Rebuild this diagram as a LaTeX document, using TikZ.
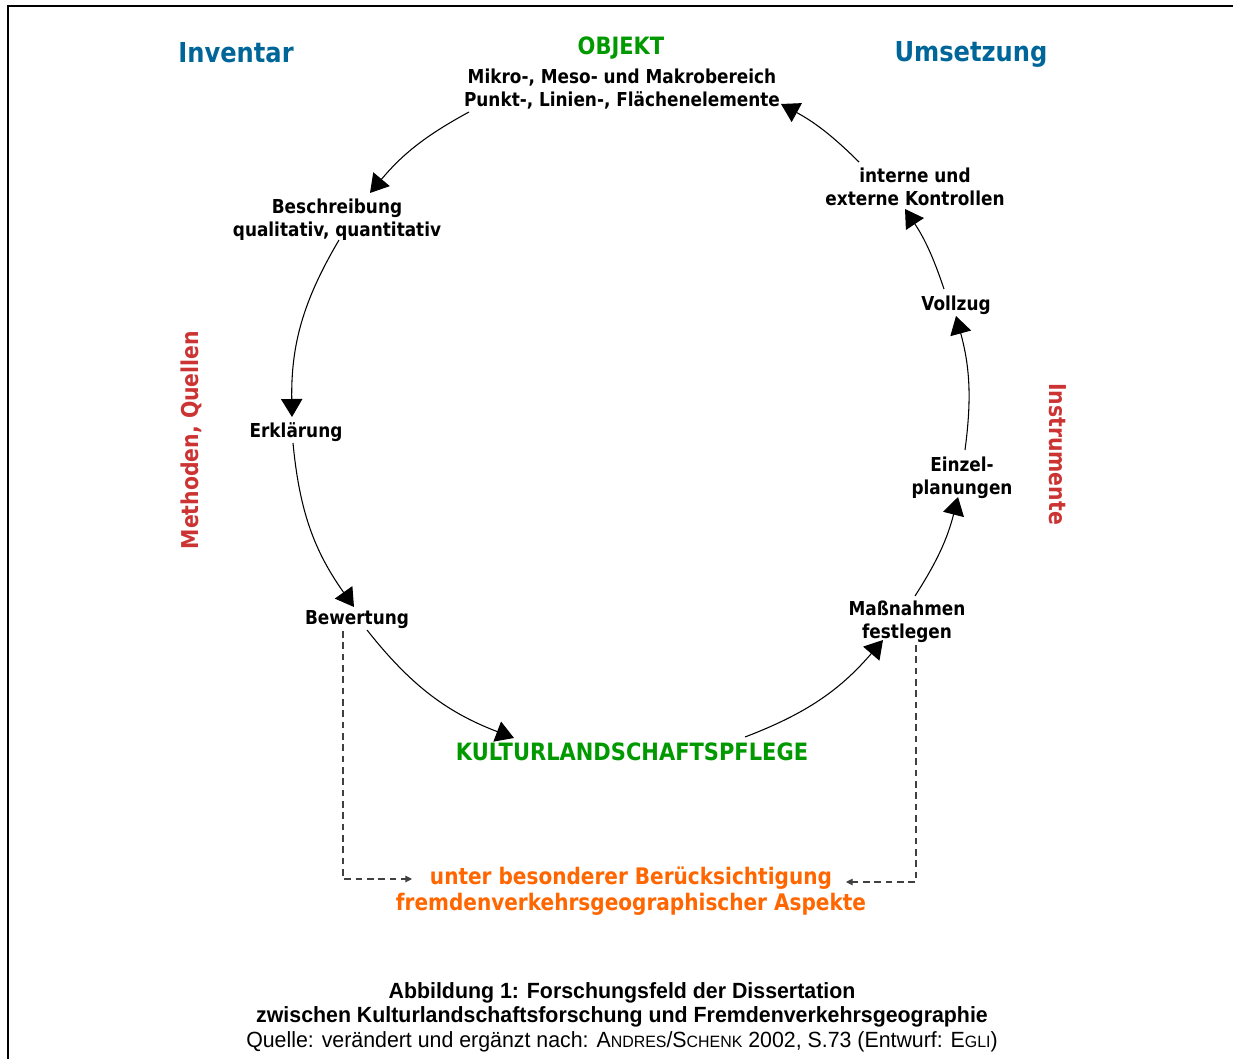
\documentclass[tikz,border=0pt]{standalone}
\usepackage{fontspec}
\setmainfont{DejaVu Sans}[FakeStretch=0.88]
\newfontfamily\capfont{Liberation Sans}[FakeStretch=0.97]
\usetikzlibrary{arrows.meta}
\definecolor{hblue}{RGB}{0,102,153}
\definecolor{hgreen}{RGB}{0,153,0}
\definecolor{hred}{RGB}{204,51,51}
\definecolor{horange}{RGB}{255,102,0}
\newcommand{\mysc}[1]{{\fontsize{12.3pt}{16pt}\selectfont #1}}
\tikzset{
  body/.style={inner sep=0pt, align=center, font=\fontsize{14.4pt}{17.25pt}\selectfont\bfseries},
  head/.style={inner sep=0pt, align=center, text=hblue, font=\fontsize{20.6pt}{24pt}\selectfont\bfseries},
  grn/.style={inner sep=0pt, align=center, text=hgreen, font=\fontsize{17.9pt}{21pt}\selectfont\bfseries},
  sidered/.style={inner sep=0pt, text=hred, font=\fontsize{17.4pt}{20pt}\selectfont\bfseries},
  orng/.style={inner sep=0pt, align=center, text=horange, font=\fontsize{17.1pt}{20pt}\selectfont\bfseries},
  capt/.style={inner sep=0pt, align=center, font=\capfont\fontsize{16.5pt}{18.4pt}\selectfont},
  arc/.style={line width=0.8pt, -{Triangle[length=13.5pt,width=16pt]}},
  dsh/.style={line width=0.8pt, draw=black!75, dash pattern=on 5pt off 3.5pt, -{Triangle[length=5pt,width=5pt]}}
}
\begin{document}
\begin{tikzpicture}[x=0.75pt,y=0.75pt]
\useasboundingbox (0,0) rectangle (1233,-1059);
\draw[line width=2pt] (8,-1059) -- (8,-6) -- (1233,-6);
% headings
\node[head] (inv) at (236,-53) {Inventar};
\node[head] (ums) at (971,-54.5) {Umsetzung};
\node[grn] (obj) at (621,-48) {OBJEKT};
\node[body] (objt) at (622,-89.5) {Mikro-, Meso- und Makrobereich\\Punkt-, Linien-, Flächenelemente};
\node[body] (besch) at (337,-220) {Beschreibung\\qualitativ, quantitativ};
\node[body] (erkl) at (296,-432.5) {Erklärung};
\node[body] (bew) at (357,-619.5) {Bewertung};
\node[grn] (kult) at (632,-752) {KULTURLANDSCHAFTSPFLEGE};
\node[body] (mass) at (907,-622) {Maßnahmen\\festlegen};
\node[body] (einz) at (962,-478) {Einzel-\\planungen};
\node[body] (voll) at (956,-305.5) {Vollzug};
\node[body] (kontr) at (915,-187) {interne und\\externe Kontrollen};
\node[sidered, rotate=90] (meth) at (191,-440) {Methoden, Quellen};
\node[sidered, rotate=-90] (instr) at (1058,-454) {Instrumente};
\node[orng] (unter) at (631,-891) {unter besonderer Berücksichtigung\\fremdenverkehrsgeographischer Aspekte};
\node[capt] (cap) at (622,-1017) {\bfseries Abbildung 1: Forschungsfeld der Dissertation\\\bfseries zwischen Kulturlandschaftsforschung und Fremdenverkehrsgeographie\\Quelle: verändert und ergänzt nach: A\mysc{NDRES}/S\mysc{CHENK} 2002, S.73 (Entwurf: E\mysc{GLI})};
% arc end points
\coordinate (a1s) at (469,-112); \coordinate (a1e) at (370,-193);
\coordinate (a2s) at (339,-240); \coordinate (a2e) at (292,-417);
\coordinate (a3s) at (293,-443); \coordinate (a3e) at (354,-607);
\coordinate (a4s) at (367,-630); \coordinate (a4e) at (514,-738);
\coordinate (a5s) at (745,-737); \coordinate (a5e) at (883,-640);
\coordinate (a6s) at (915,-596); \coordinate (a6e) at (958,-497);
\coordinate (a7s) at (965,-450); \coordinate (a7e) at (956,-316);
\coordinate (a8s) at (944,-289); \coordinate (a8e) at (905,-209);
\coordinate (a9s) at (859,-162); \coordinate (a9e) at (781,-104);
\draw[arc] (a1s) to[bend right=10.8] (a1e);
\draw[arc] (a2s) to[bend right=15.7] (a2e);
\draw[arc] (a3s) to[bend right=15] (a3e);
\draw[arc] (a4s) to[bend right=15.4] (a4e);
\draw[arc] (a5s) to[bend right=14.2] (a5e);
\draw[arc] (a6s) to[bend right=9.2] (a6e);
\draw[arc] (a7s) to[bend right=11.4] (a7e);
\draw[arc] (a8s) to[bend right=7.5] (a8e);
\draw[arc] (a9s) to[bend right=8.1] (a9e);
% dashed feedback
\coordinate (d1s) at (343,-631); \coordinate (d1c) at (343,-879); \coordinate (d1e) at (412,-879);
\coordinate (d2s) at (916,-645); \coordinate (d2c) at (916,-882); \coordinate (d2e) at (846,-882);
\draw[dsh] (d1s) -- (d1c) -- (d1e);
\draw[dsh] (d2s) -- (d2c) -- (d2e);
\end{tikzpicture}
\end{document}
